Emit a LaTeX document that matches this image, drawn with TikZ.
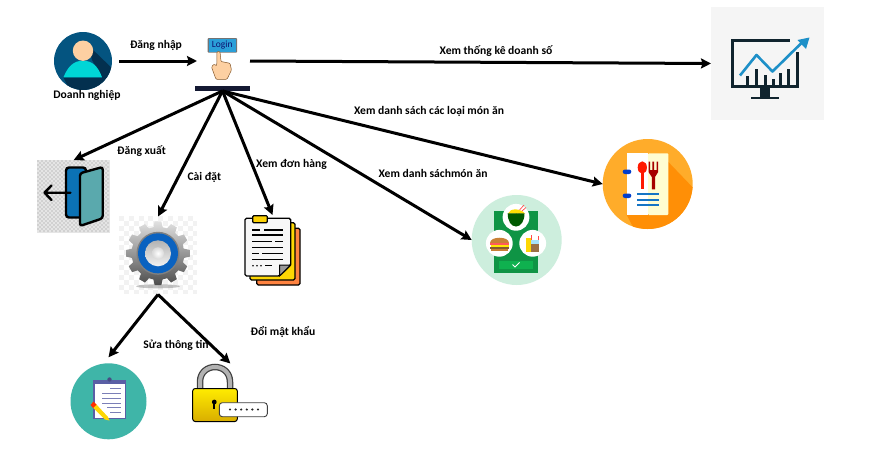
\documentclass[tikz,border=0pt]{standalone}
\usepackage{fontspec}
\setmainfont{Carlito}
\usetikzlibrary{arrows.meta}
\definecolor{userblue}{RGB}{4,84,128}
\definecolor{usershade}{RGB}{3,48,79}
\definecolor{skin}{RGB}{253,208,162}
\definecolor{userteal}{RGB}{0,214,214}
\definecolor{inkdark}{RGB}{16,36,46}
\definecolor{hubnavy}{RGB}{20,25,50}
\definecolor{loginblue}{RGB}{42,159,216}
\definecolor{chartblue}{RGB}{30,144,200}
\definecolor{doorblue}{RGB}{11,114,181}
\definecolor{doorteal}{RGB}{90,169,173}
\definecolor{gearblue}{RGB}{10,98,192}
\definecolor{foodmint}{RGB}{205,238,221}
\definecolor{foodgreen}{RGB}{15,148,69}
\definecolor{foodbutton}{RGB}{15,177,79}
\definecolor{menuorange}{RGB}{255,172,42}
\definecolor{menushade}{RGB}{255,143,6}
\definecolor{clipteal}{RGB}{63,181,168}
\definecolor{clippurple}{RGB}{90,95,165}
\tikzset{
    icon/.style={inner sep=0pt, outer sep=0pt},
    link/.style={line width=3pt, -{Stealth[length=10pt,width=10pt,inset=1.5pt]}},
    linklabel/.style={inner sep=0pt, font=\fontsize{11.6}{13}\selectfont\bfseries}
}
\begin{document}
\begin{tikzpicture}[x=1pt, y=-1pt]
    \useasboundingbox (0,0) rectangle (870,455);
    \fill[white] (0,0) rectangle (870,455);

    \node[icon, circle, minimum size=58pt] (user) at (83,61) {};
    \node[icon, minimum width=53pt, minimum height=42pt] (login) at (223.5,61) {};
    \node[icon, minimum width=55pt, minimum height=4.5pt, fill=hubnavy] (hub) at (222.5,88.7) {};
    \node[icon, minimum size=113pt, fill=black!4] (chart) at (767.5,63.5) {};
    \node[icon, minimum size=73pt] (exit) at (73.7,196.5) {};
    \node[icon, minimum size=78pt] (gear) at (158,255.5) {};
    \node[icon, minimum width=55pt, minimum height=71pt] (orders) at (272.5,250.5) {};
    \node[icon, circle, minimum size=90pt, fill=foodmint] (food) at (516.7,240) {};
    \node[icon, circle, minimum size=90pt, fill=menuorange] (menu) at (647.7,184) {};
    \node[icon, circle, minimum size=76pt, fill=clipteal, outer sep=6pt] (profile) at (108.5,401.3) {};
    \node[icon, minimum width=75pt, minimum height=58.5pt] (lock) at (230.3,392.7) {};

    \begin{scope}
        \clip (83,61) circle [radius=29];
        \fill[userblue] (54,32) rectangle (112,90);
        \fill[usershade] (89,46) -- (120,76) -- (120,100) -- (75,100) -- (63.3,77.3) -- (102,77.3) -- (92,60) -- cycle;
    \end{scope}
    \fill[userteal] (63.5,77.3) .. controls (68,66) and (74,60.7) .. (83,60.7) .. controls (92,60.7) and (98,66) .. (102,77.3) -- cycle;
    \fill[skin] (83,50.7) circle [radius=10.2];

    \fill[black!55, rounded corners=0.8pt] (207.5,38.2) rectangle (237.2,52.5);
    \fill[loginblue] (208.5,39.2) rectangle (236.2,51.5);
    \node[inner sep=0pt, text=hubnavy!70!blue, font=\fontsize{9.5}{10}\selectfont] (logintext) at (222.3,45.4) {Login};
    \draw[fill=skin, draw=brown!70!black, line width=0.5pt, rounded corners=1pt]
        (217,51.5) -- (220,51.5) -- (221,61.5) -- (230,63.3) -- (231.5,70) -- (227,79.3)
        -- (216,79.3) -- (211.5,67) -- (214,64) -- (216.7,66) -- cycle;

    \fill[inkdark] (730.7,39.3) rectangle (798.7,88.3);
    \fill[black!4] (733.7,42.3) rectangle (795.7,85);
    \fill[black!4] (790,37) -- (802,37) -- (802,52) -- (790,52) -- cycle;
    \fill[inkdark] (795.7,54) rectangle (798.7,60);
    \fill[inkdark] (760,88) rectangle (769.5,96.5);
    \fill[inkdark] (750.7,96.5) rectangle (778.7,98.5);
    \foreach \xbar/\ybar in {745.5/75.5, 754.5/69, 763.7/75, 771.5/79, 778.5/73, 786.5/69} {
        \fill[inkdark] (\xbar,\ybar) rectangle (\xbar+3,85);
    }
    \draw[chartblue, line width=2.6pt, line join=round] (740,75.5) -- (756.5,55) -- (772.5,71.5) -- (803,41.5);
    \fill[chartblue] (809.5,37.5) -- (797.5,40) -- (806,49) -- cycle;

    \fill[black!10] (37.3,160) rectangle (110,232.7);
    \foreach \xcheck in {0,...,35} {
        \foreach \ycheck in {0,...,35} {
            \pgfmathparse{int(mod(\xcheck+\ycheck,2))}
            \ifnum\pgfmathresult=0
                \fill[black!18] (37.3+2*\xcheck,160+2*\ycheck) rectangle ++(2,2);
            \fi
        }
    }
    \draw[fill=doorblue, line width=2.4pt, rounded corners=3pt] (66,167.5) rectangle (86,217.5);
    \draw[fill=doorteal, line width=2.4pt, rounded corners=2.5pt] (80,173.3) -- (102.7,167) -- (102.7,218.3) -- (80,226) -- cycle;
    \draw[line width=2.4pt, line cap=round, line join=round] (70.5,192.7) -- (44.5,192.7) (51.5,185.5) -- (44.5,192.7) -- (51.5,200);

    \foreach \xcheck in {0,...,15} {
        \foreach \ycheck in {0,...,15} {
            \pgfmathparse{int(mod(\xcheck+\ycheck,2))}
            \ifnum\pgfmathresult=0
                \fill[black!5] (119+4.9*\xcheck,216+4.9*\ycheck) rectangle ++(4.9,4.9);
            \fi
        }
    }
    \begin{scope}[shift={(158,253.3)}]
        \fill[black!45, opacity=.5] (0,33) ellipse [x radius=22, y radius=2];
        \shade[top color=black!12, bottom color=black!70]
            (-10:26) \foreach \toothangle in {0,30,...,330} {
                -- (\toothangle-10:26.5) -- (\toothangle-6:32) -- (\toothangle+6:32) -- (\toothangle+10:26.5)
            } -- cycle;
        \fill[black!50] (0,0) circle [radius=21.5];
        \fill[gearblue] (0,0) circle [radius=20];
        \shade[top color=black!30, bottom color=black!5] (0,0) circle [radius=13];
        \shade[inner color=white, outer color=black!15] (0,0) circle [radius=6];
    \end{scope}

    \draw[fill=orange!70!red!75!white, line width=1.3pt, rounded corners=1.5pt] (256.7,228.3) rectangle (300,285);
    \draw[fill=yellow!75!orange, line width=1.3pt, rounded corners=1.5pt] (250,222.7) rectangle (295,280);
    \draw[fill=black!3, line width=1.3pt, rounded corners=1.5pt] (245,218.3) -- (290.7,218.3) -- (290.7,265) -- (279.5,276) -- (245,276) -- cycle;
    \draw[fill=black!40, line width=1pt] (279.5,276) -- (279.5,265) -- (290.7,265) -- cycle;
    \draw[fill=yellow!70!orange, line width=1.2pt, rounded corners=1pt] (252.7,215.7) rectangle (267.3,222.7);
    \foreach \yrule/\xfrom/\xto in {230/252.3/260, 230/264/283.3, 235/252.3/283.3, 241.7/252.3/272, 241.7/275/283.3, 247.3/252.3/283.3, 253.3/252.3/259, 253.3/262/283.3, 259.3/252.3/283.3, 265.7/265/272} {
        \draw[line width=1.4pt] (\xfrom,\yrule) -- (\xto,\yrule);
    }
    \foreach \xdot in {253,257,261} {
        \fill (\xdot,265.7) circle [radius=0.9];
    }

    \fill[foodgreen] (494.3,210.7) rectangle (538.3,273.3);
    \fill[foodbutton] (499,260.7) rectangle (533.3,268.7);
    \draw[white, line width=0.8pt] (512.5,264.5) -- (515,267) -- (519.5,262.5);
    \foreach \xfood/\yfood in {516/217.3, 499.3/243.3, 532.7/243.3} {
        \fill[white] (\xfood,\yfood) circle [radius=13.4];
    }
    \draw[red!70!white, line width=0.7pt] (516,214) -- (524,205) (518,214.5) -- (526,207.5);
    \fill[yellow!80!orange] (508,213.5) .. controls (510,208) and (520,208) .. (525,213.5) -- cycle;
    \fill[green!35!black] (507.7,213.3) -- (524.5,213.3) .. controls (524.5,221) and (521,226.5) .. (516,226.5) .. controls (511,226.5) and (507.7,221) .. (507.7,213.3) -- cycle;
    \fill[brown!85!orange] (490,243) .. controls (490,235.5) and (509,235.5) .. (509,243) -- cycle;
    \fill[red!65!white] (490,243) rectangle (509,245);
    \fill[yellow!90!orange] (490.5,245) rectangle (508.5,246.5);
    \fill[brown!70!black] (490,246.5) rectangle (509,248.5);
    \fill[brown!85!orange] (491,248.5) rectangle (508,250.5);
    \fill[yellow!75!orange] (525.7,238.3) rectangle (531.7,251.7);
    \fill[cyan!35!white] (531,240) rectangle (539.3,244);
    \fill[brown!75!black!90!white] (531,244) rectangle (539.3,251.7);
    \draw[red!70!white, line width=0.7pt] (531.5,235) -- (531.5,240) (538,236) -- (538,240);

    \begin{scope}
        \clip (647.7,184) circle [radius=45];
        \fill[menushade] (660,153.3) -- (700,195) -- (700,240) -- (640,240) -- (626.7,215) -- cycle;
    \end{scope}
    \fill[white] (626.7,153.3) rectangle (648,215);
    \fill[yellow!18!white, rounded corners=1pt] (648,153.3) rectangle (668.3,215);
    \fill[blue!70!cyan!80!black, rounded corners=2.2pt] (622.7,169.5) rectangle (631.3,174);
    \fill[blue!70!cyan!80!black, rounded corners=2.2pt] (622.7,193.5) rectangle (631.3,198);
    \fill[red!80!orange] (642.3,167.5) ellipse [x radius=4.6, y radius=6.2];
    \fill[red!80!orange] (641,172) rectangle (643.6,189.3);
    \fill[red!65!black] (648.5,161.5) -- (650,161.5) -- (650,170) -- (652.3,170) -- (652.3,161.5) -- (654.2,161.5) -- (654.2,170) -- (656.5,170) -- (656.5,161.5) -- (658.2,161.5) -- (658.2,172) -- (655,177) -- (655,189.3) -- (651.8,189.3) -- (651.8,177) -- (648.5,172) -- cycle;
    \foreach \ymenu in {194,199.7,205.3} {
        \draw[cyan!55!blue, line width=1.7pt] (637.3,\ymenu) -- (659,\ymenu);
    }

    \draw[clippurple, fill=white, line width=1.6pt] (94,381) rectangle (125.5,418.5);
    \fill[clippurple] (93.3,379.5) rectangle (126,383.5);
    \fill[clippurple!80!black] (109.5,379.5) circle [radius=2.2];
    \foreach \yrule/\xfrom/\xto in {388.5/110/121, 393/102/121, 398/102/121, 403/102/121, 407.5/107/121, 412/110/121} {
        \draw[clippurple!80!white, line width=0.8pt] (\xfrom,\yrule) -- (\xto,\yrule);
    }
    \fill[yellow!75!orange] (92.5,407) -- (95.5,403.5) -- (108,417) -- (109.5,420.5) -- (105,419.5) -- cycle;
    \fill[red!65!orange] (90.5,405) -- (93.5,401.5) -- (96.5,404.5) -- (93,408) -- cycle;

    \draw[line width=6.5pt, black!75, line cap=butt] (200,392) -- (200,382) .. controls (200,362) and (230,362) .. (230,382) -- (230,392);
    \draw[line width=4pt, black!30, line cap=butt] (200,392) -- (200,382) .. controls (200,362) and (230,362) .. (230,382) -- (230,392);
    \shade[top color=yellow!85!orange, bottom color=yellow!60!orange!85!black, draw=black, line width=1pt, rounded corners=2.5pt] (192.7,388.5) rectangle (237.3,421.5);
    \fill (214.3,402) circle [radius=2.4];
    \fill (213.4,402) rectangle (215.2,409);
    \draw[fill=white, draw=black!75, line width=0.9pt, rounded corners=3pt] (219.3,402.7) rectangle (267.3,416.7);
    \foreach \xdot in {230,235.6,241.2,246.8,252.4,258} {
        \fill[black!85] (\xdot,409.5) circle [radius=1.2];
    }

    \path
        (156,45) node[linklabel] (login-label) {Đăng nhập}
        (87,95) node[linklabel] (user-label) {Doanh nghiệp}
        (496,51) node[linklabel] (chart-label) {Xem thống kê doanh số}
        (429,111) node[linklabel] (menu-label) {Xem danh sách các loại món ăn}
        (141.5,151) node[linklabel] (exit-label) {Đăng xuất}
        (204.3,177) node[linklabel] (gear-label) {Cài đặt}
        (291.5,164) node[linklabel] (orders-label) {Xem đơn hàng}
        (433,173) node[linklabel] (food-label) {Xem danh sáchmón ăn}
        (176,345) node[linklabel] (profile-label) {Sửa thông tin}
        (283,332) node[linklabel] (lock-label) {Đổi mật khẩu};

    \draw[link, shorten <=7pt] (user) -- (login.west);
    \draw[link] (login.east) -- (chart.west);
    \draw[link] (hub.south) -- (exit.north);
    \draw[link] (hub.south) -- (gear.north);
    \draw[link] (hub.south) -- (orders.north);
    \draw[link] (hub.south) -- (food.west);
    \draw[link] (hub.south) -- (menu.west);
    \draw[link] (gear.south) -- (profile.north);
    \draw[link] (gear.south) -- (lock.north);
\end{tikzpicture}
\end{document}
